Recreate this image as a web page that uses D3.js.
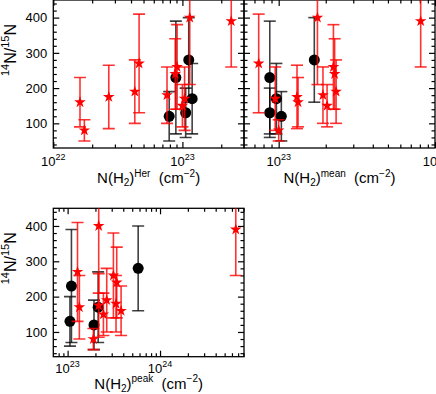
<!DOCTYPE html>
<html><head><meta charset="utf-8">
<script src="https://cdn.jsdelivr.net/npm/d3@7"></script>
<style>
body{margin:0;background:#fff}
svg{display:block}
text{font-family:"Liberation Sans",Arial,Helvetica,sans-serif;fill:#000}
</style>
</head><body>
<svg id="c" width="436" height="394"></svg>
<script>
// ---- data ----
// red stars: 14N/15N ratio, symmetric error, and N(H2) in three estimates
const starRatio = [160, 80, 175, 190, 270, 180, 260, 240, 400, 150, 170, 390];
const starErr   = [70, 30, 90, 90, 140, 80, 120, 100, 190, 60, 90, 130];
const starHer   = [1.61e22, 1.74e22, 2.69e22, 4.28e22, 4.62e22, 7.6e22, 9.1e22, 8.8e22, 1.14e23, 1.0e23, 1.04e23, 2.39e23];
const starMean  = [1.33e23, 1.0e23, 1.31e23, 2.33e23, 7.45e22, 1.92e23, 2.24e23, 2.28e23, 1.77e23, 2.04e23, 9.5e22, 8.1e23];
const starPeak  = [3.79e23, 1.90e23, 2.17e23, 2.65e23, 1.28e23, 3.34e23, 3.13e23, 3.40e23, 2.17e23, 2.44e23, 1.34e23, 6.6e24];
// black circles
const dotRatio = [230, 130, 120, 170, 280];
const dotErr   = [160, 70, 70, 100, 120];
const dotHer   = [8.9e22, 1.06e23, 7.9e22, 1.19e23, 1.12e23];
const dotMean  = [8.77e22, 8.77e22, 1.04e23, 9.67e22, 1.69e23];
const dotPeak  = [1.10e23, 1.06e23, 1.93e23, 2.14e23, 5.8e23];
// axes
const yDomain = [30, 450];
const yMajor = [100, 200, 300, 400];
const yMinor = [40, 60, 80, 120, 140, 160, 180, 220, 240, 260, 280, 320, 340, 360, 380, 420, 440];
const xTitles = ["Her", "mean", "peak"];
const xDomains = [[1e22, 3e23], [6e22, 1e24], [7e22, 8.1e24]];

// ---- layout ----
const svg = d3.select("#c");
const panels = [
  {xs: starHer,  xd: dotHer,  dom: xDomains[0], title: xTitles[0], L: 53.3, R: 244, T: 0,     B: 148,   yLab: true},
  {xs: starMean, xd: dotMean, dom: xDomains[1], title: xTitles[1], L: 244,  R: 435, T: 0,     B: 148,   yLab: false},
  {xs: starPeak, xd: dotPeak, dom: xDomains[2], title: xTitles[2], L: 53.3, R: 244, T: 208.3, B: 356.7, yLab: true, lowLab: true}
];

panels.forEach((p, i) => {
  const x = d3.scaleLog().domain(p.dom).range([p.L, p.R]);
  const y = d3.scaleLinear().domain(yDomain).range([p.B, p.T]);
  const g = svg.append("g");

  // log ticks
  const lo = Math.floor(Math.log10(p.dom[0])), hi = Math.ceil(Math.log10(p.dom[1]));
  const xMaj = [], xMin = [];
  for (let d = lo; d <= hi; d++) {
    const v = Math.pow(10, d);
    if (v >= p.dom[0] * 0.999 && v <= p.dom[1] * 1.001) xMaj.push(v);
    for (let k = 2; k <= 9; k++) {
      const m = k * v;
      if (m > p.dom[0] && m < p.dom[1]) xMin.push(m);
    }
  }
  const axes = [
    [d3.axisBottom(x).tickValues(xMaj).tickSize(-6), `translate(0,${p.B})`],
    [d3.axisBottom(x).tickValues(xMin).tickSize(-3.5), `translate(0,${p.B})`],
    [d3.axisTop(x).tickValues(xMaj).tickSize(-6), `translate(0,${p.T})`],
    [d3.axisTop(x).tickValues(xMin).tickSize(-3.5), `translate(0,${p.T})`],
    [d3.axisLeft(y).tickValues(yMajor).tickSize(-6), `translate(${p.L},0)`],
    [d3.axisLeft(y).tickValues(yMinor).tickSize(-3.5), `translate(${p.L},0)`],
    [d3.axisRight(y).tickValues(yMajor).tickSize(-6), `translate(${p.R},0)`],
    [d3.axisRight(y).tickValues(yMinor).tickSize(-3.5), `translate(${p.R},0)`]
  ];
  axes.forEach(([ax, tr]) => {
    const a = g.append("g").attr("transform", tr).call(ax.tickFormat(""));
    a.select(".domain").remove();
    a.selectAll(".tick line").attr("stroke", "#000").attr("stroke-width", 1.2);
  });
  g.append("rect").attr("x", p.L).attr("y", p.T).attr("width", p.R - p.L).attr("height", p.B - p.T)
    .attr("fill", "none").attr("stroke", "#000").attr("stroke-width", 1.3);

  // y tick labels
  if (p.yLab) {
    g.selectAll(".ylab").data(yMajor).enter().append("text")
      .attr("x", p.L - 6).attr("y", d => y(d)).attr("dy", "0.36em")
      .attr("text-anchor", "end").attr("font-size", 13).text(d => d);
    const t = g.append("text").attr("transform", `translate(15.5,${p.T + 50}) rotate(-90)`)
      .attr("text-anchor", "middle").attr("font-size", 16);
    t.append("tspan").attr("font-size", 11).attr("dy", -7).text("14");
    t.append("tspan").attr("dy", 7).text("N/");
    t.append("tspan").attr("font-size", 11).attr("dy", -7).text("15");
    t.append("tspan").attr("dy", 7).text("N");
  }
  // x tick labels
  const labY = p.lowLab ? p.B + 16.5 : p.B + 18;
  xMaj.forEach(v => {
    const t = g.append("text").attr("x", x(v)).attr("y", labY).attr("text-anchor", "middle").attr("font-size", 13);
    t.append("tspan").text("10");
    t.append("tspan").attr("font-size", 9).attr("dy", -6).text(Math.round(Math.log10(v)));
  });
  // x title
  const tY = p.lowLab ? p.B + 32 : p.B + 35;
  const tt = g.append("text").attr("x", (p.L + p.R) / 2).attr("y", tY).attr("text-anchor", "middle").attr("font-size", 15);
  tt.append("tspan").text("N(H");
  tt.append("tspan").attr("font-size", 10).attr("dy", 3).text("2");
  tt.append("tspan").attr("dy", -3).text(")");
  tt.append("tspan").attr("font-size", 10).attr("dy", -6.5).text(p.title);
  tt.append("tspan").attr("dy", 6.5).text("\u00a0\u00a0(cm");
  tt.append("tspan").attr("font-size", 10).attr("dy", -6.5).text("\u22122");
  tt.append("tspan").attr("dy", 6.5).text(")");

  // data
  const clipId = "clip" + i;
  svg.append("clipPath").attr("id", clipId).append("rect")
    .attr("x", p.L).attr("y", p.T).attr("width", p.R - p.L).attr("height", p.B - p.T);
  const dg = svg.append("g").attr("clip-path", `url(#${clipId})`);
  const cap = 6;
  function bars(xv, yv, ev, color, op) {
    const b = dg.append("g").attr("stroke", color).attr("stroke-width", 1.6).attr("stroke-opacity", op).attr("fill", "none");
    yv.forEach((v, j) => {
      const cx = x(xv[j]), y1 = y(v - ev[j]), y2 = y(v + ev[j]);
      b.append("line").attr("x1", cx).attr("x2", cx).attr("y1", y1).attr("y2", y2);
      b.append("line").attr("x1", cx - cap).attr("x2", cx + cap).attr("y1", y1).attr("y2", y1);
      b.append("line").attr("x1", cx - cap).attr("x2", cx + cap).attr("y1", y2).attr("y2", y2);
    });
  }
  bars(p.xd, dotRatio, dotErr, "#000", 0.75);
  dg.selectAll(".dot").data(dotRatio).enter().append("circle")
    .attr("cx", (d, j) => x(p.xd[j])).attr("cy", d => y(d)).attr("r", 5.5).attr("fill", "#000");
  bars(p.xs, starRatio, starErr, "#ff0000", 0.8);
  const star = d3.symbol().type(d3.symbolStar).size(42);
  dg.selectAll(".star").data(starRatio).enter().append("path")
    .attr("d", star).attr("fill", "#ff0000")
    .attr("transform", (d, j) => `translate(${x(p.xs[j])},${y(d)})`);
});
</script>
</body></html>
